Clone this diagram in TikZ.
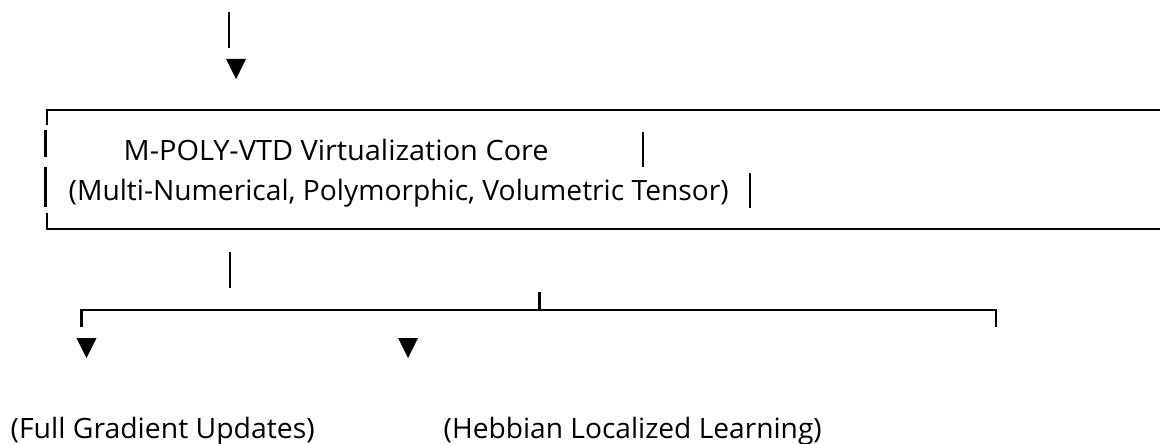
\documentclass[tikz,border=0pt]{standalone}
\usepackage{fontspec}
\setmainfont{Open Sans}
\newcommand{\fitw}[2]{\resizebox{#1}{\height}{#2}}
\begin{document}
\begin{tikzpicture}[x=1pt,y=-1pt,
  ln/.style={line width=2.2pt,black},
  tri/.style={fill=black,draw=none},
  lbl/.style={anchor=base west,inner sep=0pt,font=\fontsize{28}{33}\selectfont}]
\useasboundingbox (0,0) rectangle (1160,444);
% top incoming
\coordinate (t0) at (229,12);
\coordinate (t1) at (229,48);
\draw[ln] (t0) -- (t1);
\fill[tri] (226,59) -- (246,59) -- (236,79) -- cycle;
% box
\coordinate (bTL) at (47,125);
\coordinate (bTC) at (47,110);
\coordinate (bTR) at (1160,110);
\coordinate (bBL) at (47,213);
\coordinate (bBC) at (47,229);
\coordinate (bBR) at (1160,229);
\draw[ln] (bTL) -- (bTC) -- (bTR);
\draw[ln] (bBL) -- (bBC) -- (bBR);
\draw[ln] (45.5,130) -- (45.5,157);
\draw[ln] (45.5,167) -- (45.5,207);
\draw[ln] (643,132) -- (643,167);
\draw[ln] (750,173) -- (750,208);
\node[lbl] (l1) at (123.5,160) {\fitw{425pt}{M-POLY-VTD Virtualization Core}};
\node[lbl] (l2) at (68.5,200) {\fitw{660pt}{(Multi-Numerical, Polymorphic, Volumetric Tensor)}};
% split
\coordinate (s0) at (230,252);
\coordinate (s1) at (230,288);
\draw[ln] (s0) -- (s1);
\coordinate (hL) at (81.5,327);
\coordinate (hLc) at (81.5,310);
\coordinate (hR) at (996,327);
\coordinate (hRc) at (996,310);
\coordinate (hM) at (539.5,310);
\coordinate (hMt) at (539.5,292);
\draw[ln] (hL) -- (hLc) -- (hRc) -- (hR);
\draw[ln] (hMt) -- (hM);
\fill[tri] (76.5,338) -- (96.5,338) -- (86.5,358) -- cycle;
\fill[tri] (398,338) -- (418,338) -- (408,358) -- cycle;
\node[lbl] (o1) at (10.5,438) {\fitw{304pt}{(Full Gradient Updates)}};
\node[lbl] (o2) at (443.5,438) {\fitw{378pt}{(Hebbian Localized Learning)}};
\end{tikzpicture}
\end{document}
